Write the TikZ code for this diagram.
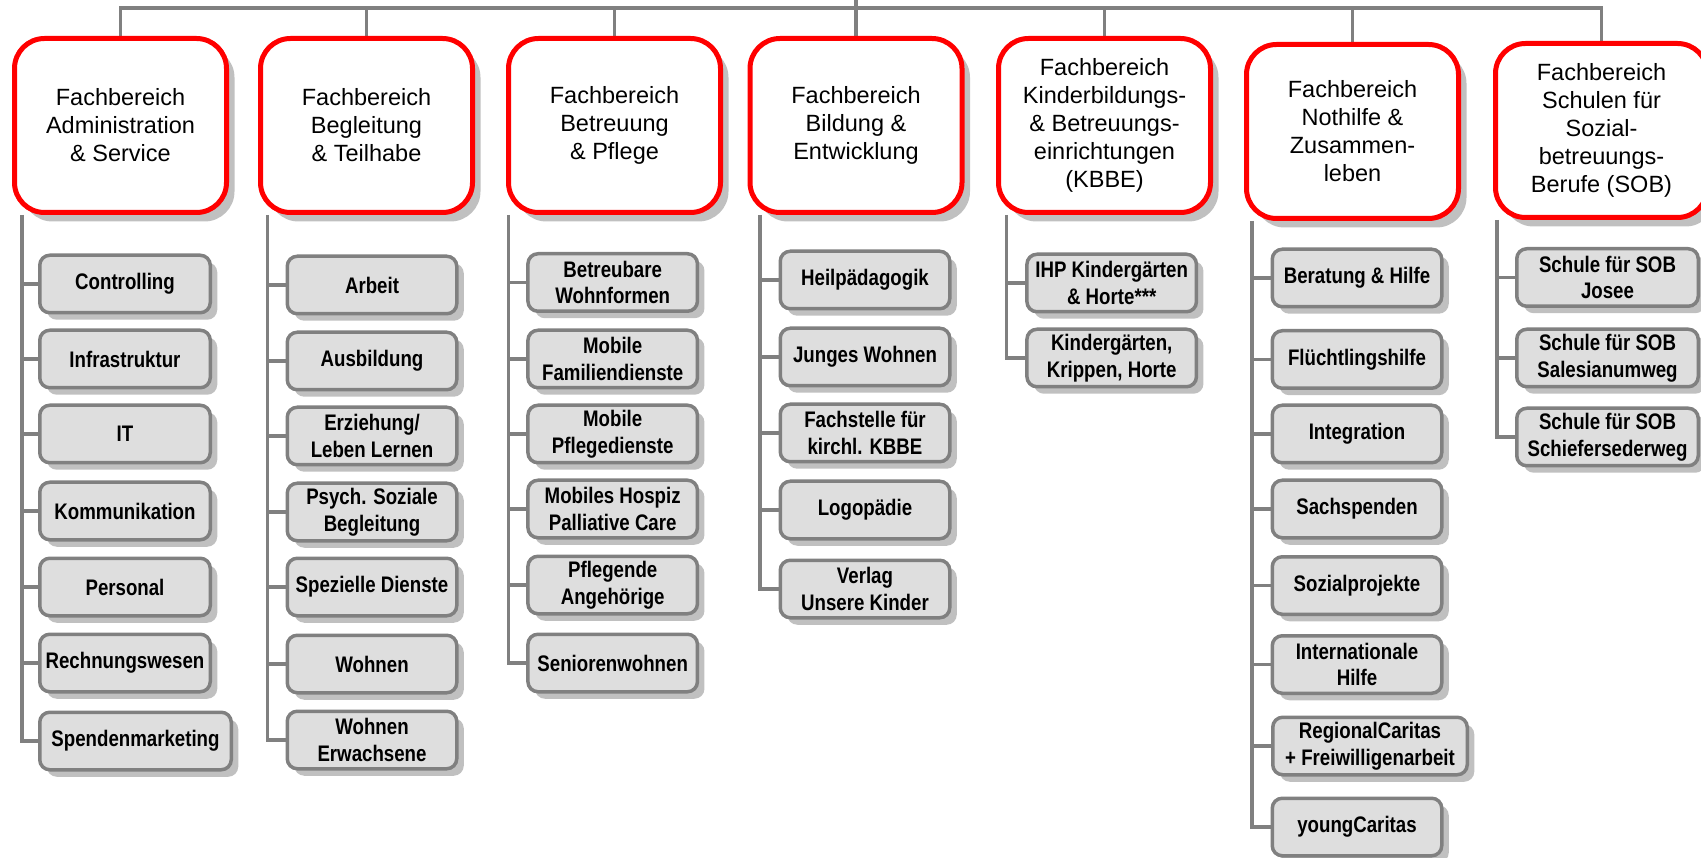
\documentclass[tikz,border=0pt]{standalone}
\usepackage{fontspec}
\setmainfont{Liberation Sans}
\newfontfamily\subfont[FakeStretch=0.83]{Liberation Sans Bold}
\usetikzlibrary{shadows,backgrounds}
\definecolor{fbred}{RGB}{255,0,0}
\definecolor{linegray}{RGB}{128,128,128}
\definecolor{boxgray}{RGB}{222,222,222}
\definecolor{shadowgray}{RGB}{192,192,192}

\begin{document}
\begin{tikzpicture}[x=1pt, y=-1pt,
    head/.style={draw=fbred, line width=5pt, fill=white, rounded corners=30pt,
      minimum width=212pt, minimum height=174pt, inner sep=2pt, align=center,
      font=\fontsize{23.5}{28}\selectfont,
      drop shadow={shadow xshift=8pt, shadow yshift=-9pt, fill=shadowgray, opacity=1}},
    sub/.style={draw=linegray, line width=3.5pt, fill=boxgray, rounded corners=10pt,
      minimum width=169.5pt, minimum height=57.5pt, inner sep=2pt, align=center,
      font=\subfont\fontsize{22.5}{26.5}\selectfont,
      drop shadow={shadow xshift=7pt, shadow yshift=-7pt, fill=shadowgray, opacity=1}},
    link/.style={draw=linegray, line width=3.5pt}]
    \useasboundingbox (0,0) rectangle (1701,858);

    \coordinate (top) at (0,0);
    \coordinate (bus) at (0,8);

    \node[head] (adm) at (120.5,125.5) {Fachbereich\\Administration\\\& Service};
    \node[head] (beg) at (366.5,125.5) {Fachbereich\\Begleitung\\\& Teilhabe};
    \node[head] (bet) at (614.5,125.5) {Fachbereich\\Betreuung\\\& Pflege};
    \node[head] (bil) at (856,125.5) {Fachbereich\\Bildung \&\\Entwicklung};
    \node[head] (kbbe) at (1104.5,125.5) {Fachbereich\\Kinderbildungs-\\\& Betreuungs-\\einrichtungen\\(KBBE)};
    \node[head] (noth) at (1352.5,131.5) {Fachbereich\\Nothilfe \&\\Zusammen-\\leben};
    \node[head] (sob) at (1601.5,130.5) {Fachbereich\\Schulen für\\Sozial-\\betreuungs-\\Berufe (SOB)};

    \coordinate (admv) at (22,0);
    \node[sub, minimum width=170.5pt] (adm1) at (125,284) {Controlling};
    \node[sub, minimum width=170.5pt] (adm2) at (125,359) {Infrastruktur};
    \node[sub, minimum width=170.5pt] (adm3) at (125,434) {IT};
    \node[sub, minimum width=170.5pt] (adm4) at (125,511) {Kommunikation};
    \node[sub, minimum width=170.5pt] (adm5) at (125,587) {Personal};
    \node[sub, minimum width=170.5pt] (adm6) at (125,663) {Rechnungswesen};
    \node[sub, minimum width=191.5pt] (adm7) at (135.5,741) {Spendenmarketing};

    \coordinate (begv) at (267.7,0);
    \node[sub] (beg1) at (372,285) {Arbeit};
    \node[sub] (beg2) at (372,361) {Ausbildung};
    \node[sub] (beg3) at (372,436) {Erziehung/\\Leben Lernen};
    \node[sub] (beg4) at (372,512) {Psych. Soziale\\Begleitung};
    \node[sub] (beg5) at (372,587) {Spezielle Dienste};
    \node[sub] (beg6) at (372,664) {Wohnen};
    \node[sub] (beg7) at (372,740) {Wohnen\\Erwachsene};

    \coordinate (betv) at (508.3,0);
    \node[sub] (bet1) at (612.7,282.5) {Betreubare\\Wohnformen};
    \node[sub] (bet2) at (612.7,359) {Mobile\\Familiendienste};
    \node[sub] (bet3) at (612.7,434) {Mobile\\Pflegedienste};
    \node[sub] (bet4) at (612.7,509) {Mobiles Hospiz\\Palliative Care};
    \node[sub] (bet5) at (612.7,585) {Pflegende\\Angehörige};
    \node[sub] (bet6) at (612.7,663) {Seniorenwohnen};

    \coordinate (bilv) at (760,0);
    \node[sub] (bil1) at (865,280) {Heilpädagogik};
    \node[sub] (bil2) at (865,357) {Junges Wohnen};
    \node[sub] (bil3) at (865,433) {Fachstelle für\\kirchl. KBBE};
    \node[sub] (bil4) at (865,510) {Logopädie};
    \node[sub] (bil5) at (865,589) {Verlag\\Unsere Kinder};

    \coordinate (kbbev) at (1006.7,0);
    \node[sub] (kbbe1) at (1111.7,283) {IHP Kindergärten\\\& Horte***};
    \node[sub] (kbbe2) at (1111.7,358) {Kindergärten,\\Krippen, Horte};

    \coordinate (nothv) at (1252,0);
    \node[sub] (noth1) at (1357,278) {Beratung \& Hilfe};
    \node[sub] (noth2) at (1357,359.5) {Flüchtlingshilfe};
    \node[sub] (noth3) at (1357,434) {Integration};
    \node[sub] (noth4) at (1357,509) {Sachspenden};
    \node[sub] (noth5) at (1357,585.5) {Sozialprojekte};
    \node[sub] (noth6) at (1357,664.5) {Internationale\\Hilfe};
    \node[sub, minimum width=194.5pt] (noth7) at (1370,746) {RegionalCaritas\\+ Freiwilligenarbeit};
    \node[sub] (noth8) at (1357,827) {youngCaritas};

    \coordinate (sobv) at (1497,0);
    \node[sub, minimum width=181.5pt] (sob1) at (1607.5,277.5) {Schule für SOB\\Josee};
    \node[sub, minimum width=181.5pt] (sob2) at (1607.5,358) {Schule für SOB\\Salesianumweg};
    \node[sub, minimum width=181.5pt] (sob3) at (1607.5,437) {Schule für SOB\\Schiefersederweg};

    \begin{scope}[on background layer]
      \draw[link] (bil.north) -- (bil.north |- top);
      \foreach \h in {adm,beg,bet,kbbe,noth,sob}
        \draw[link] (\h.north) |- (bus -| bil.north);

      \draw[link] (adm.south -| admv) |- (adm7.west);
      \foreach \i in {1,...,6}
        \draw[link] (adm\i.west) -- (adm\i.west -| admv);
      \draw[link] (beg.south -| begv) |- (beg7.west);
      \foreach \i in {1,...,6}
        \draw[link] (beg\i.west) -- (beg\i.west -| begv);
      \draw[link] (bet.south -| betv) |- (bet6.west);
      \foreach \i in {1,...,5}
        \draw[link] (bet\i.west) -- (bet\i.west -| betv);
      \draw[link] (bil.south -| bilv) |- (bil5.west);
      \foreach \i in {1,...,4}
        \draw[link] (bil\i.west) -- (bil\i.west -| bilv);
      \draw[link] (kbbe.south -| kbbev) |- (kbbe2.west);
      \draw[link] (kbbe1.west) -- (kbbe1.west -| kbbev);
      \draw[link] (noth.south -| nothv) |- (noth8.west);
      \foreach \i in {1,...,7}
        \draw[link] (noth\i.west) -- (noth\i.west -| nothv);
      \draw[link] (sob.south -| sobv) |- (sob3.west);
      \foreach \i in {1,2}
        \draw[link] (sob\i.west) -- (sob\i.west -| sobv);
    \end{scope}
  \end{tikzpicture}
\end{document}
